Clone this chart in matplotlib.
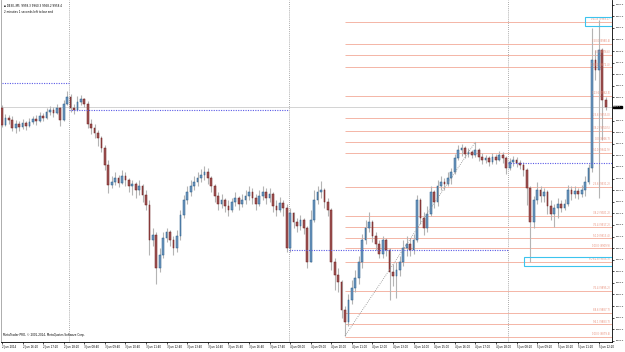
import numpy as np
import matplotlib
matplotlib.use("Agg")
import matplotlib.pyplot as plt
from matplotlib.patches import Rectangle
import matplotlib.transforms as mtrans

# DE30 M5-style candles, 2-5 Jun 2014
first_open = 9958.3
close = [9952.5, 9954.9, 9954.2, 9951.4, 9952.8, 9951.8, 9953.2, 9952.1, 9953.5, 9954.5,
         9953.9, 9955.6, 9954.9, 9957.0, 9957.6, 9956.6, 9958.3, 9954.2, 9959.7, 9962.1,
         9958.3, 9957.6, 9960.4, 9961.4, 9959.7, 9952.8, 9951.4, 9949.7, 9948.0, 9944.5,
         9938.7, 9931.8, 9932.8, 9934.2, 9932.5, 9934.9, 9933.5, 9931.4, 9932.1, 9930.0,
         9931.4, 9928.3, 9924.9, 9912.8, 9914.5, 9903.1, 9907.6, 9913.5, 9915.6, 9912.8,
         9910.0, 9914.2, 9921.4, 9926.6, 9929.4, 9931.4, 9932.8, 9934.2, 9935.2, 9936.3,
         9934.2, 9931.4, 9928.0, 9925.2, 9926.6, 9924.5, 9923.1, 9925.9, 9927.3, 9925.2,
         9926.6, 9928.0, 9929.4, 9927.3, 9925.2, 9928.0, 9929.4, 9927.3, 9928.7, 9924.5,
         9923.1, 9925.6, 9923.8, 9910.0, 9922.1, 9919.0, 9917.6, 9919.7, 9916.9, 9905.2,
         9919.7, 9926.6, 9929.4, 9930.0, 9925.9, 9923.1, 9905.2, 9900.7, 9898.3, 9888.6,
         9884.5, 9892.1, 9896.2, 9899.7, 9905.2, 9912.8, 9916.9, 9919.0, 9914.2, 9911.4,
         9908.0, 9912.8, 9909.3, 9901.8, 9900.4, 9902.4, 9905.2, 9910.0, 9911.4, 9909.3,
         9912.8, 9926.6, 9920.4, 9916.9, 9921.8, 9929.4, 9925.9, 9931.4, 9932.8, 9932.1,
         9934.2, 9936.3, 9941.1, 9943.8, 9944.5, 9942.5, 9943.2, 9942.1, 9943.8, 9941.4,
         9940.4, 9941.1, 9939.7, 9941.4, 9940.4, 9942.1, 9941.1, 9937.6, 9939.7, 9940.4,
         9939.4, 9938.7, 9936.9, 9930.7, 9919.0, 9926.6, 9930.0, 9928.0, 9929.4, 9924.5,
         9921.8, 9923.8, 9925.2, 9923.8, 9925.2, 9930.0, 9928.7, 9929.7, 9928.7, 9930.0,
         9932.8, 9937.6, 9974.9, 9971.4, 9978.4, 9961.1, 9958.7]
high = [9959.4, 9956.3, 9955.9, 9955.6, 9954.2, 9953.9, 9954.5, 9953.9, 9954.9, 9955.6,
        9955.9, 9957.0, 9956.6, 9958.3, 9959.0, 9958.7, 9959.7, 9958.7, 9961.1, 9964.2,
        9963.2, 9959.7, 9962.5, 9962.8, 9961.8, 9960.8, 9954.5, 9952.8, 9950.7, 9948.7,
        9945.6, 9940.4, 9934.9, 9936.3, 9935.2, 9936.9, 9936.3, 9934.2, 9933.5, 9932.8,
        9933.5, 9932.1, 9930.0, 9926.6, 9916.9, 9915.6, 9910.0, 9915.6, 9916.9, 9916.2,
        9914.2, 9916.2, 9923.1, 9928.3, 9931.4, 9933.5, 9934.9, 9936.3, 9937.3, 9938.3,
        9937.6, 9934.9, 9932.1, 9929.4, 9928.7, 9927.3, 9926.6, 9927.3, 9929.4, 9928.0,
        9928.7, 9930.0, 9931.4, 9930.7, 9928.7, 9930.0, 9931.4, 9930.7, 9930.7, 9929.4,
        9926.6, 9927.6, 9926.6, 9925.2, 9923.8, 9922.5, 9920.4, 9921.4, 9920.4, 9917.6,
        9923.1, 9930.0, 9931.4, 9933.2, 9930.7, 9927.3, 9923.8, 9906.6, 9903.1, 9899.0,
        9890.0, 9894.2, 9899.0, 9902.4, 9907.3, 9914.9, 9919.7, 9922.5, 9919.7, 9915.6,
        9912.8, 9914.2, 9913.5, 9910.0, 9904.5, 9905.2, 9907.3, 9912.8, 9914.2, 9913.5,
        9914.9, 9928.3, 9927.3, 9922.5, 9924.5, 9931.4, 9930.0, 9933.5, 9934.9, 9934.2,
        9936.3, 9937.6, 9942.5, 9945.6, 9945.9, 9945.2, 9944.5, 9943.8, 9946.6, 9944.5,
        9942.8, 9942.1, 9941.8, 9942.8, 9942.5, 9943.5, 9943.2, 9941.8, 9941.1, 9941.8,
        9941.4, 9940.4, 9939.7, 9937.6, 9931.4, 9928.0, 9932.8, 9931.4, 9930.7, 9930.0,
        9926.6, 9925.2, 9927.3, 9926.6, 9926.9, 9931.8, 9931.4, 9931.4, 9930.7, 9931.8,
        9934.9, 9939.0, 9985.9, 9978.4, 9988.7, 9979.0, 9962.1]
low = [9951.8, 9952.1, 9952.8, 9950.4, 9949.7, 9950.4, 9951.1, 9950.7, 9951.8, 9952.8,
       9952.5, 9953.5, 9953.9, 9954.5, 9955.9, 9955.2, 9956.3, 9952.1, 9953.9, 9959.4,
       9957.0, 9956.3, 9957.3, 9959.4, 9958.7, 9951.4, 9949.4, 9948.0, 9945.2, 9943.2,
       9936.9, 9929.0, 9930.7, 9931.8, 9931.1, 9932.1, 9931.4, 9929.4, 9928.3, 9927.3,
       9928.3, 9925.9, 9923.1, 9907.6, 9910.7, 9897.6, 9901.8, 9906.6, 9912.1, 9910.7,
       9907.6, 9908.7, 9912.8, 9920.4, 9925.2, 9928.0, 9930.0, 9931.4, 9932.8, 9933.5,
       9932.1, 9929.4, 9925.9, 9923.1, 9923.8, 9922.5, 9921.1, 9922.5, 9924.5, 9923.1,
       9924.2, 9925.2, 9926.6, 9925.2, 9923.1, 9924.5, 9926.6, 9925.2, 9925.9, 9922.5,
       9921.1, 9922.5, 9921.1, 9908.7, 9908.7, 9916.9, 9915.6, 9916.2, 9914.9, 9903.1,
       9905.2, 9919.0, 9925.2, 9927.3, 9923.8, 9921.1, 9902.4, 9895.5, 9894.9, 9885.9,
       9879.7, 9883.1, 9890.7, 9894.9, 9897.6, 9903.1, 9911.4, 9915.6, 9912.1, 9909.3,
       9906.6, 9906.6, 9907.3, 9892.1, 9896.9, 9892.8, 9900.4, 9903.8, 9907.3, 9907.3,
       9908.0, 9912.1, 9918.3, 9914.5, 9915.6, 9921.1, 9923.8, 9924.5, 9930.0, 9930.0,
       9931.4, 9932.1, 9935.6, 9940.4, 9941.8, 9941.1, 9941.4, 9941.1, 9941.4, 9940.1,
       9939.0, 9939.4, 9938.3, 9939.0, 9939.0, 9940.1, 9939.4, 9935.6, 9936.9, 9938.3,
       9938.0, 9937.3, 9934.9, 9924.9, 9905.2, 9916.9, 9925.2, 9925.9, 9925.9, 9921.8,
       9919.7, 9917.3, 9920.4, 9922.5, 9923.1, 9924.5, 9926.6, 9927.3, 9926.9, 9927.6,
       9928.0, 9932.1, 9936.3, 9968.0, 9927.3, 9947.3, 9957.6]

tick_labels = ["2 Jun 2014", "2 Jun 16:20", "2 Jun 17:20", "2 Jun 18:20", "3 Jun 08:40",
               "3 Jun 09:40", "3 Jun 10:40", "3 Jun 11:40", "3 Jun 12:40", "3 Jun 13:40",
               "3 Jun 14:40", "3 Jun 15:40", "3 Jun 16:40", "3 Jun 17:40", "4 Jun 08:00",
               "4 Jun 09:00", "4 Jun 10:00", "4 Jun 11:00", "4 Jun 12:00", "4 Jun 13:00",
               "4 Jun 14:00", "4 Jun 15:00", "4 Jun 16:00", "4 Jun 17:00", "4 Jun 18:00",
               "5 Jun 08:20", "5 Jun 09:20", "5 Jun 10:20", "5 Jun 11:20", "5 Jun 12:20"]
label_step = 6
day_first_bar = [20, 84, 148]

# previous-day style dotted levels: (price, first bar, last bar)
day_levels = [(9967.0, 0, 19.6), (9957.6, 19.6, 83.6),
              (9909.3, 83.6, 147.6), (9939.5, 147.6, 178)]

fib_price = [9988.1, 9980.4, 9976.6, 9972.4, 9962.5, 9955.0, 9950.5, 9946.7, 9942.9,
             9931.2, 9921.2, 9917.2, 9913.4, 9909.9, 9905.3, 9895.2, 9887.7, 9883.7, 9879.4]
fib_name = ["161.8", "150.0", "0.0", "138.2", "123.6", "23.6", "38.2", "0.0", "50.0",
            "23.6", "38.2", "76.4", "50.0", "100.0", "PO 61.8", "76.4", "88.6", "94.1", "100.0"]
fib_start = 100
boxed = ["161.8", "PO 61.8"]

header = "\u25aa DE30,,M5  9958.3 9960.3 9958.2 9958.4"
countdown = "2 minutes 1 seconds left to bar end"
copyright = "MetaTrader PRO, \u00a9 2001-2014, MetaQuotes Software Corp."

plt.rcParams['font.family'] = ['DejaVu Sans']

W, H = 625, 352
fig = plt.figure(figsize=(W / 100, H / 100), dpi=100)
ax = fig.add_axes([1 / W, 10 / H, 611 / W, 342 / H])

n = len(close)
idx = np.arange(n)
c = np.array(close)
o = np.concatenate([[first_open], c[:-1]])
h = np.maximum(np.array(high), np.maximum(o, c))
l = np.minimum(np.array(low), np.minimum(o, c))
up = c >= o

ax.vlines(idx, l, h, color="#b4b4b4", lw=0.8, zorder=2)
bw = 0.5
bot = np.minimum(o, c)
hgt = np.maximum(np.abs(c - o), 0.25)
ax.bar(idx[up], hgt[up], bw, bot[up], color="#6e98bf", edgecolor="#245a88", lw=0.35, zorder=3)
ax.bar(idx[~up], hgt[~up], bw, bot[~up], color="#a05656", edgecolor="#6e1a1a", lw=0.35, zorder=3)

x0, x1 = -0.29, 177.84
ax.set_xlim(x0, x1)
ax.set_ylim(9877.6, 9995.6)

# day separators
for d in day_first_bar:
    ax.axvline(d - 0.4, color="#909090", lw=0.6, ls=(0, (1, 1.5)), zorder=1)

# bid line
ax.axhline(c[-1], color="#cccccc", lw=0.6, zorder=1)

for p, a, b in day_levels:
    ax.hlines(p, a, b, color="#5a5ae6", lw=0.8, ls=(0, (1, 1.2)), zorder=4)

# fibo levels
for p, name in zip(fib_price, fib_name):
    ax.hlines(p, fib_start, x1, color="#f2aa98", lw=0.6, zorder=1)
    ax.text(x1 - 0.6, p + 0.2, "%s (%.1f)" % (name, p), ha="right", va="bottom",
            fontsize=1.8, color="#e8907c", zorder=5)
    if name in boxed:
        left = 170.0 if name == "161.8" else 152.2
        ax.add_patch(Rectangle((left, p - 1.6), x1 - left - 0.1, 3.4, fill=False,
                               ec="#3cc4ee", lw=0.8, zorder=6))

# fibo base line from swing low to swing high
lo_i = fib_start
hi_i = 138
ax.plot([lo_i, hi_i], [l[lo_i], h[hi_i]], color="#8a8a8a", lw=0.6,
        ls=(0, (1, 1.5)), zorder=4)

# axes styling
ax.spines["top"].set_visible(False)
ax.spines["left"].set_color("#a0a0a0")
ax.spines["right"].set_color("black")
ax.spines["bottom"].set_color("black")
for s in ["left", "right", "bottom"]:
    ax.spines[s].set_linewidth(0.6)

yt = np.arange(9878.0, 9995.0, 4.0)
yt = [v for v in yt if abs(v - c[-1]) > 2.0]
ax.set_yticks(yt)
ax.set_yticklabels(["%.1f" % v for v in yt])
ax.yaxis.tick_right()
ax.tick_params(axis="y", labelsize=1.7, length=1.5, width=0.5, pad=1)

xt = idx[::label_step][:len(tick_labels)]
ax.set_xticks(xt)
ax.set_xticklabels(tick_labels, ha="left")
ax.tick_params(axis="x", labelsize=1.9, length=1.5, width=0.5, pad=1)

tr = mtrans.blended_transform_factory(ax.transAxes, ax.transData)
ax.text(1.002, c[-1], "%.1f" % c[-1], transform=tr, ha="left", va="center",
        fontsize=1.7, color="white", clip_on=False,
        bbox=dict(boxstyle="square,pad=0.2", fc="black", ec="black"))

fig.text(4 / W, 1 - 6 / H, header, fontsize=2.0, va="center", ha="left")
fig.text(4 / W, 1 - 12 / H, countdown, fontsize=2.0, va="center", ha="left")
fig.text(3 / W, 1 - 335 / H, copyright, fontsize=2.0, va="center", ha="left")

fig.savefig("out.png", dpi=100)
